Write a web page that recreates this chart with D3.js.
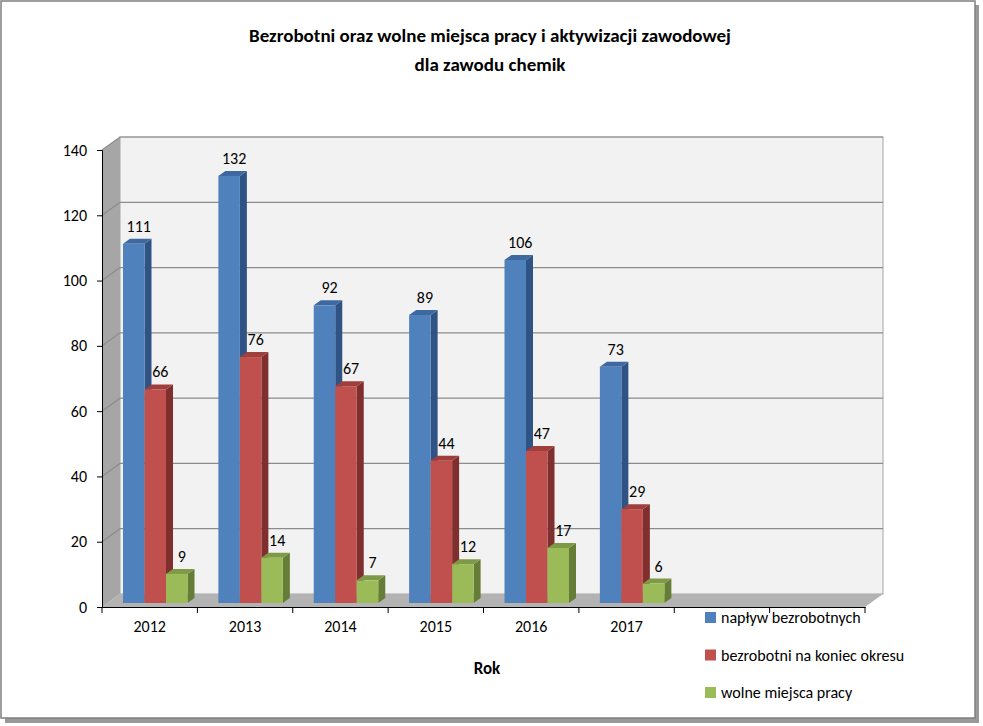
<!DOCTYPE html>
<html><head><meta charset="utf-8">
<script src="https://cdn.jsdelivr.net/npm/d3@7"></script>
<style>body{margin:0;background:#fff}</style>
</head><body><div id="container"></div>
<script>
// Data
const years = ['2012', '2013', '2014', '2015', '2016', '2017', '', ''];
const seriesNames = ['napływ bezrobotnych', 'bezrobotni na koniec okresu', 'wolne miejsca pracy'];
const naplyw = [111, 132, 92, 89, 106, 73];
const bezrobotni = [66, 76, 67, 44, 47, 29];
const wolne = [9, 14, 7, 12, 17, 6];
const yTicks = [0, 20, 40, 60, 80, 100, 120, 140];

const seriesValues = [naplyw, bezrobotni, wolne];
const front = ['#4f81bd', '#c0504d', '#9bbb59'];
const side = ['#2f5385', '#7f2f2d', '#657d36'];
const topc = ['#3d68a0', '#a03e3c', '#7f9a47'];

const W = 983, H = 726;
const font = 'Calibri, Carlito, "Liberation Sans", Arial, sans-serif';
const svg = d3.select('#container').append('svg').attr('width', W).attr('height', H)
  .style('display', 'block').style('font-family', font);

// frame with shadow
svg.append('rect').attr('x', 5).attr('y', 5).attr('width', 974).attr('height', 718).attr('fill', '#999');
svg.append('rect').attr('x', 1).attr('y', 1).attr('width', 974).attr('height', 717)
  .attr('fill', '#fff').attr('stroke', '#7f7f7f').attr('stroke-width', 1.5);

const DX = 18, DY = -13;
const x = d3.scaleBand().domain(d3.range(years.length)).range([102, 865]);
const yFront = d3.scaleLinear().domain([0, 140]).range([607, 150]);
const yBar = d3.scaleLinear().domain([0, 140]).range([603, 150]);

// back wall
const x0 = 102 + DX, x1 = 865 + DX;
svg.append('rect').attr('x', x0).attr('y', yFront(140) + DY).attr('width', x1 - x0)
  .attr('height', yFront(0) - yFront(140)).attr('fill', '#f2f2f2').attr('stroke', '#a6a6a6');
// side wall
svg.append('path').attr('d', `M102,${yFront(140)} L${x0},${yFront(140) + DY} L${x0},${yFront(0) + DY} L102,${yFront(0)} Z`)
  .attr('fill', '#a6a6a6');
// floor
svg.append('path').attr('d', `M102,${yFront(0)} L${x0},${yFront(0) + DY} L${x1},${yFront(0) + DY} L865,${yFront(0)} Z`)
  .attr('fill', '#b3b3b3');
// gridlines on wall
yTicks.slice(1).forEach(t => {
  svg.append('path').attr('d', `M102,${yFront(t)} L${x0},${yFront(t) + DY} L${x1},${yFront(t) + DY}`)
    .attr('fill', 'none').attr('stroke', '#8c8c8c').attr('stroke-width', 1.2);
});

// axes
const yAxis = d3.axisLeft(yFront).tickValues(yTicks).tickSize(5).tickPadding(10);
const ya = svg.append('g').attr('transform', 'translate(102,0)').call(yAxis);
const xAxis = d3.axisBottom(x).tickFormat(i => years[i]).tickSize(0).tickPadding(14);
const xa = svg.append('g').attr('transform', `translate(0,${yFront(0)})`).call(xAxis);
xa.selectAll('line').remove();
d3.range(years.length + 1).forEach(i => {
  const xx = i < years.length ? x(i) : 865;
  xa.append('line').attr('x1', xx).attr('x2', xx).attr('y1', 0).attr('y2', 6).attr('stroke', '#000');
});
[ya, xa].forEach(a => {
  a.select('.domain').attr('stroke', '#000');
  a.selectAll('text').attr('font-size', 16).attr('font-family', font).attr('fill', '#000');
  a.selectAll('.tick line').attr('stroke', '#000');
});

// bars
const bw = 21.5, bdx = 7, bdy = -5;
years.slice(0, naplyw.length).forEach((yr, i) => {
  seriesValues.forEach((vals, s) => {
    const v = vals[i];
    const bx = x(i) + 21 + s * bw;
    const by = yBar(v), bb = yBar(0);
    const g = svg.append('g');
    g.append('path').attr('d', `M${bx + bw},${by} L${bx + bw + bdx},${by + bdy} L${bx + bw + bdx},${bb + bdy} L${bx + bw},${bb} Z`).attr('fill', side[s]);
    g.append('path').attr('d', `M${bx},${by} L${bx + bdx},${by + bdy} L${bx + bw + bdx},${by + bdy} L${bx + bw},${by} Z`).attr('fill', topc[s]);
    g.append('rect').attr('x', bx).attr('y', by).attr('width', bw).attr('height', bb - by).attr('fill', front[s]);
    svg.append('text').attr('x', bx + bw / 2 + 5).attr('y', by - 12).attr('text-anchor', 'middle')
      .attr('font-size', 16).text(v);
  });
});

// title
svg.append('text').attr('x', 490).attr('y', 42).attr('text-anchor', 'middle').attr('font-size', 19)
  .attr('font-weight', 'bold').text('Bezrobotni oraz wolne miejsca pracy i aktywizacji zawodowej');
svg.append('text').attr('x', 490).attr('y', 71).attr('text-anchor', 'middle').attr('font-size', 19)
  .attr('font-weight', 'bold').text('dla zawodu chemik');
svg.append('text').attr('x', 487).attr('y', 674).attr('text-anchor', 'middle').attr('font-size', 17)
  .attr('font-weight', 'bold').text('Rok');

// legend
seriesNames.forEach((n, s) => {
  const ly = 617 + s * 37.5;
  svg.append('rect').attr('x', 705).attr('y', ly - 5).attr('width', 11).attr('height', 11).attr('fill', front[s]);
  svg.append('text').attr('x', 721).attr('y', ly + 6).attr('font-size', 16).text(n);
});
</script></body></html>
